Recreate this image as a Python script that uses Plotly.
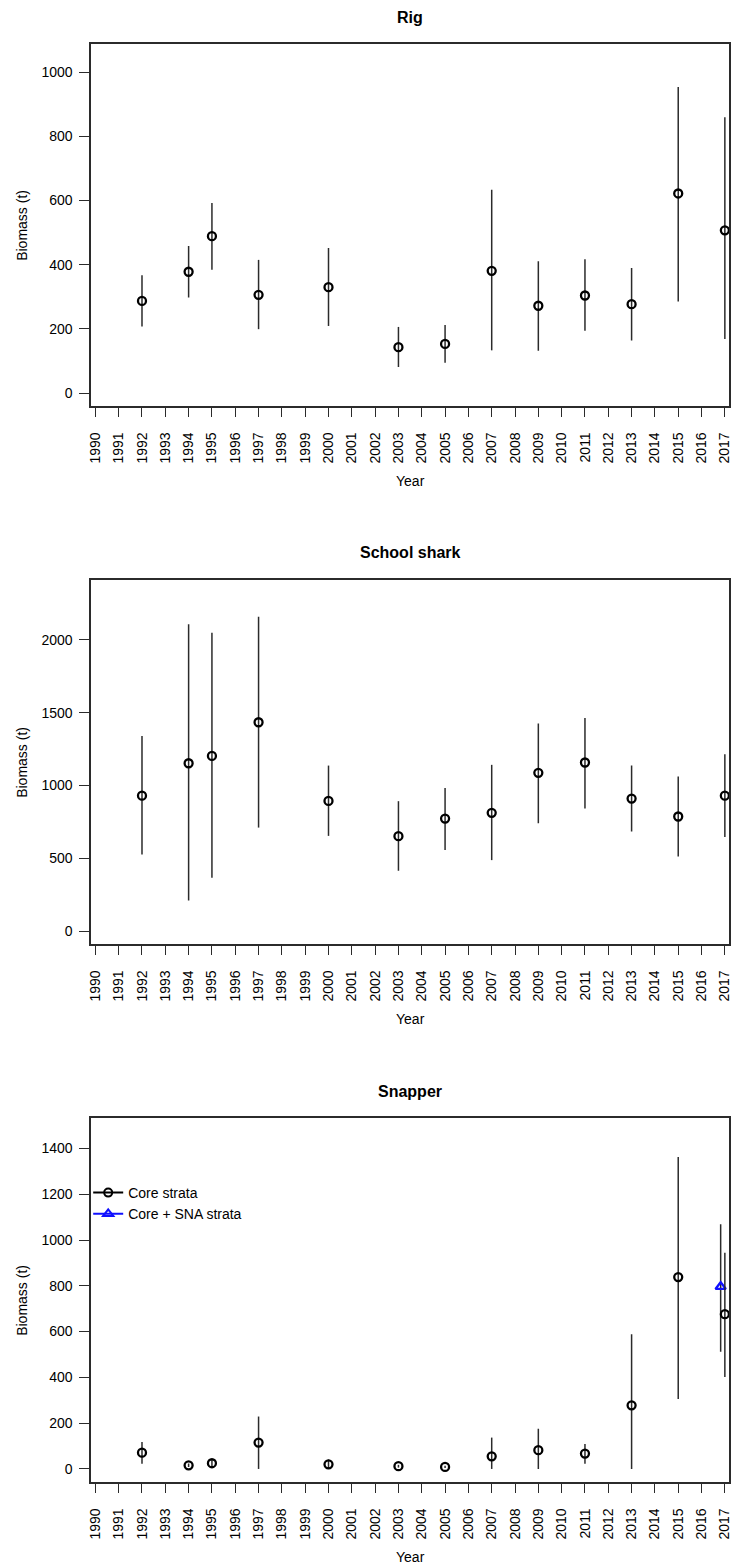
import plotly.graph_objects as go

# ---------------- data ----------------
years = [1992, 1994, 1995, 1997, 2000, 2003, 2005, 2007, 2009, 2011, 2013, 2015, 2017]
tick_years = list(range(1990, 2018))

rig = [287, 378, 489, 306, 330, 143, 153, 381, 272, 304, 277, 622, 507]
rig_lo = [207, 298, 384, 199, 209, 81, 94, 133, 132, 194, 164, 285, 168]
rig_hi = [367, 458, 592, 415, 452, 206, 212, 634, 411, 417, 390, 954, 860]

shark = [931, 1153, 1203, 1434, 895, 653, 774, 813, 1087, 1158, 911, 788, 931]
shark_lo = [527, 212, 368, 712, 655, 416, 559, 489, 742, 842, 685, 514, 648]
shark_hi = [1340, 2105, 2048, 2157, 1137, 893, 984, 1142, 1425, 1463, 1137, 1062, 1215]

snapper = [71, 16, 25, 115, 20, 12, 9, 55, 82, 67, 278, 838, 676]
snapper_lo = [23, 8, 4, 0, 1, 6, 4, 0, 0, 23, 0, 306, 402]
snapper_hi = [118, 24, 44, 229, 41, 18, 14, 137, 176, 109, 588, 1363, 944]

sna_years = [2017]
sna = [796]
sna_lo = [512]
sna_hi = [1069]

panel_titles = ["Rig", "School shark", "Snapper"]
y_ticks = [[0, 200, 400, 600, 800, 1000],
           [0, 500, 1000, 1500, 2000],
           [0, 200, 400, 600, 800, 1000, 1200, 1400]]
y_ranges = [[-40.5, 1088], [-86, 2409], [-57, 1533]]
legend_names = ["Core strata", "Core + SNA strata"]

# ---------------- layout constants ----------------
W, H = 737, 1566
FONT = "Liberation Sans, Arial, sans-serif"
BOX_L, BOX_R = 88, 732
boxes = [(44, 406), (580, 944), (1118, 1482)]
SNA_DODGE = -0.18
LINE_COL = "#2b2b2b"


def py(p):
    return 1 - p / H


fig = go.Figure()


def add_series(idx, x, v, lo, hi, symbol, color, size):
    ax = "" if idx == 0 else str(idx + 1)
    fig.add_trace(go.Scatter(
        x=x, y=v, mode="markers",
        xaxis="x" + ax, yaxis="y" + ax,
        marker=dict(symbol=symbol, size=size, color=color,
                    line=dict(width=2.3, color=color)),
        error_y=dict(type="data", symmetric=False,
                     array=[h - m for h, m in zip(hi, v)],
                     arrayminus=[m - l for m, l in zip(v, lo)],
                     width=0, thickness=1.5, color=LINE_COL),
        showlegend=False, hoverinfo="x+y"))


add_series(0, years, rig, rig_lo, rig_hi, "circle-open", "black", 8)
add_series(1, years, shark, shark_lo, shark_hi, "circle-open", "black", 8)
add_series(2, [y + SNA_DODGE for y in sna_years], sna, sna_lo, sna_hi,
           "triangle-up-open", "#1010ff", 9)
add_series(2, years, snapper, snapper_lo, snapper_hi, "circle-open", "black", 8)

# legend entries
fig.add_trace(go.Scatter(x=[None], y=[None], mode="lines+markers", name=legend_names[0],
                         xaxis="x3", yaxis="y3",
                         line=dict(color="black", width=2),
                         marker=dict(symbol="circle-open", size=8, color="black",
                                     line=dict(width=2, color="black"))))
fig.add_trace(go.Scatter(x=[None], y=[None], mode="lines+markers", name=legend_names[1],
                         xaxis="x3", yaxis="y3",
                         line=dict(color="#1010ff", width=2),
                         marker=dict(symbol="triangle-up-open", size=9, color="#1010ff",
                                     line=dict(width=2, color="#1010ff"))))

layout = dict(
    width=W, height=H,
    margin=dict(l=0, r=0, t=0, b=0),
    paper_bgcolor="white", plot_bgcolor="white",
    font=dict(family=FONT, size=14, color="black"),
    showlegend=True,
    legend=dict(x=(BOX_L - 3) / W, y=py(1177), xanchor="left", yanchor="top",
                bgcolor="rgba(0,0,0,0)", font=dict(size=14, family=FONT),
                tracegroupgap=0, itemwidth=30),
)

annotations = []
for i, (top, bot) in enumerate(boxes):
    ax = "" if i == 0 else str(i + 1)
    layout["xaxis" + ax] = dict(
        domain=[BOX_L / W, BOX_R / W], anchor="y" + ax,
        range=[1989.82, 2017.18],
        tickmode="array", tickvals=tick_years, ticktext=[str(t) for t in tick_years],
        tickangle=-90, ticks="outside", ticklen=9, tickwidth=1.2, tickcolor=LINE_COL,
        showline=True, linecolor=LINE_COL, linewidth=1.5, mirror=True,
        showgrid=False, zeroline=False, ticklabelstandoff=10,
        tickfont=dict(size=14, family=FONT, color="black"),
    )
    layout["yaxis" + ax] = dict(
        domain=[py(bot), py(top)], anchor="x" + ax,
        range=y_ranges[i],
        tickmode="array", tickvals=y_ticks[i],
        ticks="outside", ticklen=10, tickwidth=1.2, tickcolor=LINE_COL,
        showline=True, linecolor=LINE_COL, linewidth=1.5, mirror=True,
        showgrid=False, zeroline=False, ticklabelstandoff=4,
        tickfont=dict(size=14, family=FONT, color="black"),
    )
    cx = (BOX_L + BOX_R) / 2 / W
    annotations.append(dict(text="<b>%s</b>" % panel_titles[i], x=cx, y=py(top - 27),
                            xref="paper", yref="paper", showarrow=False,
                            xanchor="center", yanchor="middle",
                            font=dict(size=16, family=FONT, color="black")))
    annotations.append(dict(text="Year", x=cx, y=py(bot + 75),
                            xref="paper", yref="paper", showarrow=False,
                            xanchor="center", yanchor="middle",
                            font=dict(size=14, family=FONT, color="black")))
    annotations.append(dict(text="Biomass (t)", x=18 / W, y=py((top + bot) / 2),
                            xref="paper", yref="paper", showarrow=False, textangle=-90,
                            xanchor="center", yanchor="middle",
                            font=dict(size=14, family=FONT, color="black")))

layout["annotations"] = annotations
fig.update_layout(**layout)
fig.write_html("out.html")
